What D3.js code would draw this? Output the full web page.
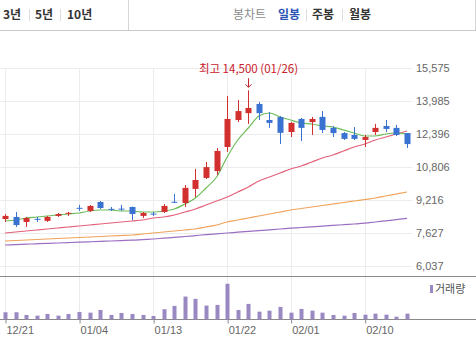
<!DOCTYPE html>
<html><head><meta charset="utf-8">
<script src="https://cdn.jsdelivr.net/npm/d3@7/dist/d3.min.js"></script>
<style>
html,body{margin:0;padding:0;background:#fff;}
svg{display:block;}
</style></head>
<body>
<svg id="c" width="476" height="347"></svg>
<script>
const dates = ["12/21","12/22","12/23","12/24","12/28","12/29","12/30","01/04","01/05","01/06","01/07","01/08","01/11","01/12","01/13","01/14","01/15","01/18","01/19","01/20","01/21","01/22","01/25","01/26","01/27","01/28","01/29","02/01","02/02","02/03","02/04","02/05","02/08","02/09","02/10","02/15","02/16","02/17","02/18"];
const opens  = [8300,8400,8160,8310,8210,8450,8570,8840,8690,9120,8790,8800,8880,8450,8560,8640,9130,9070,9750,10280,10610,11770,13070,13400,13840,13070,13210,12490,13120,12970,13220,12690,12440,12350,12110,12490,12780,12690,12440];
const highs  = [8540,8640,8400,8400,8450,8590,8640,8980,8980,9170,8880,8980,8900,8640,8640,9020,9510,9940,10710,11050,11720,14230,14030,14500,13940,13450,13260,12980,13170,13220,13500,12780,12490,12730,12350,12880,13070,12830,12440];
const lows   = [8160,7920,7920,8160,8160,8400,8450,8690,8640,8780,8690,8690,8250,8350,8450,8590,9070,8880,9360,10230,10420,11530,12970,12880,13070,12690,11910,12250,12060,12350,12440,12250,12110,12110,11770,12350,12490,12300,11720];
const closes = [8450,8010,8350,8290,8400,8540,8600,8820,8930,8830,8780,8780,8540,8590,8540,8930,9110,9800,10180,10800,11580,13120,13500,13650,13400,12930,12450,12930,12690,13120,12590,12440,12160,12160,12250,12690,12640,12350,11910];
const volumes = [977,977,600,502,740,502,740,1018,920,1297,600,879,740,600,460,1395,1855,3153,2832,1897,1995,4924,1297,2134,1060,1200,1716,920,1437,1200,920,600,502,879,642,781,642,363,781];
const ma5   = [8205,8253,8350,8398,8446,8494,8542,8590,8686,8735,8735,8686,8686,8638,8638,8686,8783,9023,9313,9795,10325,11288,12107,12685,13263,13408,13215,13071,12926,12878,12782,12734,12589,12444,12300,12300,12396,12444,12396];
const ma20  = [7627,7675,7723,7771,7819,7868,7916,7964,8013,8061,8109,8157,8205,8253,8350,8398,8494,8638,8783,8975,9168,9361,9602,9843,10132,10325,10517,10710,10855,11047,11240,11384,11577,11770,11914,12107,12251,12396,12541];
const ma60  = [7242,7266,7290,7314,7338,7362,7386,7410,7434,7458,7482,7506,7531,7579,7627,7675,7723,7771,7819,7916,8013,8157,8253,8350,8446,8542,8638,8735,8807,8879,8951,9023,9096,9168,9240,9313,9409,9506,9602];
const ma120 = [7049,7068,7087,7107,7126,7145,7165,7184,7203,7222,7242,7261,7280,7309,7338,7376,7415,7458,7502,7545,7588,7627,7665,7704,7742,7781,7819,7858,7892,7925,7959,7993,8027,8061,8099,8157,8215,8273,8330];
const yTicks = [6037,7627,9216,10806,12396,13985,15575];
const xTickDates = ["12/21","01/04","01/13","01/22","02/01","02/10"];
const periodTabs = ["3년","5년","10년"];
const chartTabs = ["봉차트","일봉","주봉","월봉"];
const volumeLabel = "거래량";

const svg = d3.select("#c");
const W = 476;
const x = d3.scalePoint().domain(dates).range([5, 407]);
const y = d3.scaleLinear().domain([6037, 15575]).range([266, 68]);
const yv = d3.scaleLinear().domain([0, 6000]).range([319.3, 276]);
const KR = "'Noto Sans CJK KR','Noto Sans',sans-serif";
const NUM = "'Liberation Sans','DejaVu Sans',sans-serif";

// header
svg.append("line").attr("x1",0).attr("x2",W).attr("y1",30.5).attr("y2",30.5).attr("stroke","#c9c9c9");
svg.append("line").attr("x1",128.5).attr("x2",128.5).attr("y1",0).attr("y2",30).attr("stroke","#d6d6d6");
svg.append("line").attr("x1",475.5).attr("x2",475.5).attr("y1",0).attr("y2",30).attr("stroke","#d6d6d6");
const ptX = [3, 35, 67];
const ptDiv = [29.5, 60.5];
periodTabs.forEach((t,i)=>{
  svg.append("text").attr("x",ptX[i]).attr("y",19).text(t)
    .attr("font-family",KR).attr("font-size",12).attr("font-weight","bold").attr("fill","#333");
  if(i>0) svg.append("line").attr("x1",ptDiv[i-1]).attr("x2",ptDiv[i-1]).attr("y1",9).attr("y2",21).attr("stroke","#ddd");
});
const ctX = [233, 278, 312, 349];
const ctDiv = [306.5, 342.5];
const ctCol = ["#8a8a8a","#2b55b5","#333","#333"];
const ctW = ["normal","bold","bold","bold"];
chartTabs.forEach((t,i)=>{
  svg.append("text").attr("x",ctX[i]).attr("y",19).text(t)
    .attr("font-family",KR).attr("font-size",12).attr("font-weight",ctW[i]).attr("fill",ctCol[i]);
  if(i>1) svg.append("line").attr("x1",ctDiv[i-2]).attr("x2",ctDiv[i-2]).attr("y1",9).attr("y2",21).attr("stroke","#ddd");
});

// grid
const g = svg.append("g");
g.selectAll(".hg").data(yTicks).join("line")
  .attr("x1",0).attr("x2",412).attr("y1",d=>Math.round(y(d))+0.5).attr("y2",d=>Math.round(y(d))+0.5)
  .attr("stroke","#ececec");
g.selectAll(".vg").data(xTickDates).join("line")
  .attr("x1",d=>Math.round(x(d))+0.5).attr("x2",d=>Math.round(x(d))+0.5).attr("y1",y(15575)).attr("y2",319)
  .attr("stroke","#ececec");

// y axis labels
const yAx = svg.append("g").attr("transform","translate(412,0)")
  .call(d3.axisRight(y).tickValues(yTicks).tickFormat(d3.format(",")).tickSize(0).tickPadding(4));
yAx.select(".domain").remove();
yAx.selectAll("text").attr("font-family",NUM).attr("font-size",11).attr("fill","#666");

// moving averages
svg.append("defs").append("clipPath").attr("id","pc").append("rect")
  .attr("x",0).attr("y",60).attr("width",412).attr("height",215);
const pg = svg.append("g").attr("clip-path","url(#pc)");
const mas = [[ma120,"#9b6fc2"],[ma60,"#f0a35a"],[ma20,"#e2617a"],[ma5,"#6cbd5a"]];
mas.forEach(([arr,col])=>{
  pg.append("path").datum(arr)
    .attr("d", d3.line().x((d,i)=>x(dates[i])).y(d=>y(d)).curve(d3.curveMonotoneX))
    .attr("fill","none").attr("stroke",col).attr("stroke-width",1.2);
});

// candles
const up = "#d2302f", dn = "#3a72d2";
const cg = pg.selectAll(".cd").data(dates).join("g");
cg.append("line")
  .attr("x1",d=>Math.round(x(d))+0.5).attr("x2",d=>Math.round(x(d))+0.5)
  .attr("y1",(d,i)=>y(highs[i])).attr("y2",(d,i)=>y(lows[i]))
  .attr("stroke",(d,i)=>closes[i]>=opens[i]?up:dn).attr("stroke-width",1);
cg.append("rect")
  .attr("x",d=>Math.round(x(d))-2.5).attr("width",6)
  .attr("y",(d,i)=>y(Math.max(opens[i],closes[i])))
  .attr("height",(d,i)=>Math.max(1,Math.abs(y(opens[i])-y(closes[i]))))
  .attr("fill",(d,i)=>closes[i]>=opens[i]?up:dn);

// annotation of high
const hiIdx = d3.maxIndex(highs);
const hx = Math.round(x(dates[hiIdx]))+0.5, hy = y(highs[hiIdx]);
svg.append("text").attr("x",hx).attr("y",hy-17).attr("text-anchor","middle")
  .attr("font-family",KR).attr("font-size",11.5).attr("fill","#c8202a")
  .text(`최고 ${d3.format(",")(highs[hiIdx])} (${dates[hiIdx]})`);
svg.append("line").attr("x1",hx).attr("x2",hx).attr("y1",hy-12).attr("y2",hy-3).attr("stroke","#c8202a");
svg.append("path").attr("d",`M${hx-3},${hy-6}L${hx},${hy-3}L${hx+3},${hy-6}`).attr("fill","none").attr("stroke","#c8202a");

// separators
svg.append("line").attr("x1",0).attr("x2",W).attr("y1",276.5).attr("y2",276.5).attr("stroke","#8a8a8a");
svg.append("line").attr("x1",0).attr("x2",W).attr("y1",319.5).attr("y2",319.5).attr("stroke","#8a8a8a");

// volume
svg.selectAll(".vb").data(dates).join("rect")
  .attr("x",d=>Math.round(x(d))-1.5).attr("width",4)
  .attr("y",(d,i)=>yv(volumes[i])).attr("height",(d,i)=>319.3-yv(volumes[i]))
  .attr("fill","#9a88c2");
svg.append("rect").attr("x",430).attr("y",285).attr("width",3).attr("height",8).attr("fill","#9a88c2");
svg.append("text").attr("x",435).attr("y",293).text(volumeLabel)
  .attr("font-family",KR).attr("font-size",11).attr("fill","#555");

// x axis
const xAx = svg.append("g").attr("transform","translate(0,319.5)")
  .call(d3.axisBottom(x).tickValues(xTickDates).tickSize(4).tickPadding(3));
xAx.select(".domain").remove();
xAx.selectAll("line").attr("stroke","#8a8a8a").attr("transform","translate(0.5,0)");
xAx.selectAll("text").attr("text-anchor","start").attr("dx",1).attr("font-family",NUM).attr("font-size",11).attr("fill","#666");
</script>
</body></html>
